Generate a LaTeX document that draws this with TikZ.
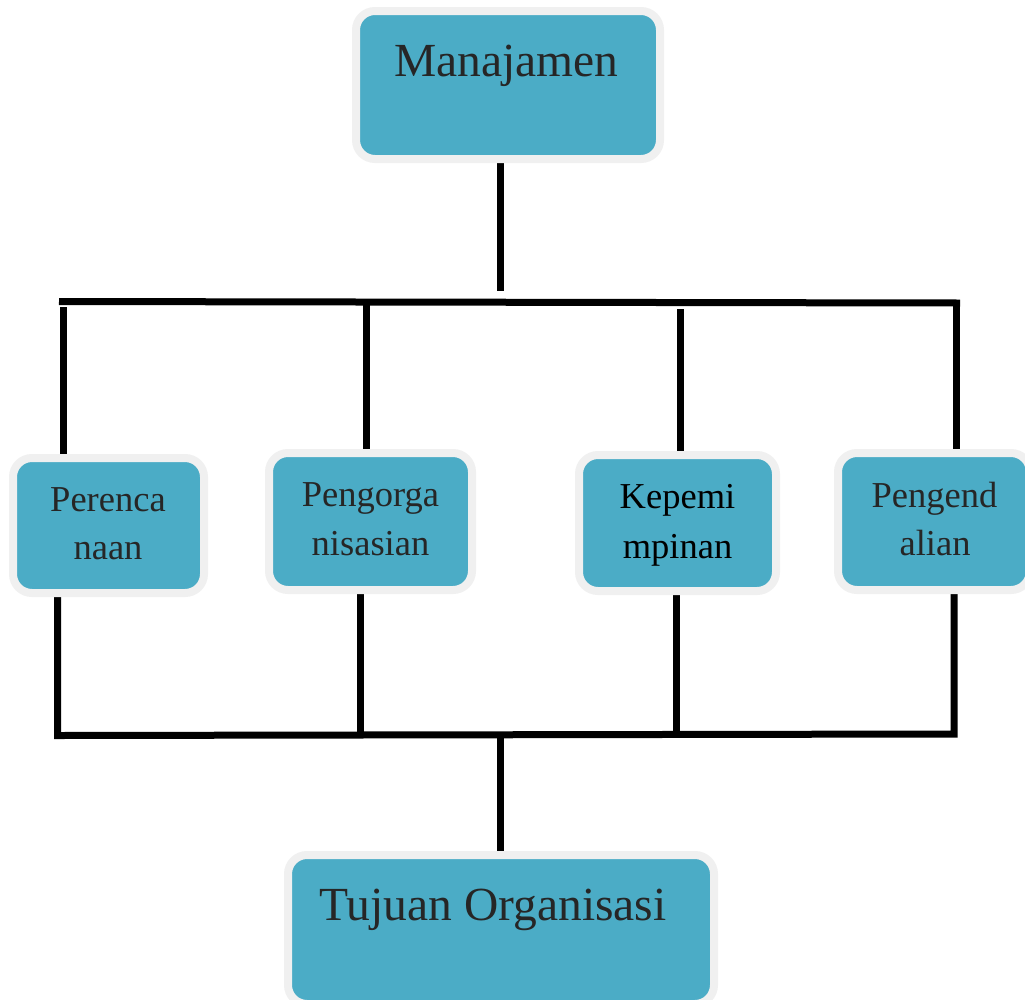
\documentclass[tikz,border=0pt]{standalone}
\usepackage{fontspec}
\setmainfont{Liberation Serif}
\usetikzlibrary{backgrounds}
\definecolor{boxblue}{HTML}{4BACC6}
\definecolor{boxrim}{HTML}{F0F0F0}
\definecolor{txtgray}{HTML}{262626}
\begin{document}
\begin{tikzpicture}[x=1pt,y=-1pt,
  box/.style={draw=boxrim, fill=boxblue, line width=8pt, rounded corners=19pt, inner sep=0pt},
  bigtext/.style={font=\fontsize{47.5}{57}\selectfont, text=txtgray, anchor=base, inner sep=0pt},
  smalltext/.style={font=\fontsize{36.5}{44}\selectfont, text=txtgray, anchor=base, inner sep=0pt},
  wire/.style={line width=7pt, draw=black, line cap=butt, line join=miter}]
\useasboundingbox (0,0) rectangle (1025,999);

% boxes
\node[box, minimum width=304pt, minimum height=148pt] (man) at (508,85) {};
\node[box, minimum width=191pt, minimum height=135pt] (per) at (108.5,525.5) {};
\node[box, minimum width=203pt, minimum height=137pt] (org) at (370.5,521.5) {};
\node[box, minimum width=197pt, minimum height=136pt] (kep) at (677.5,523) {};
\node[box, minimum width=192pt, minimum height=137pt] (pen) at (934,521.5) {};
\node[box, minimum width=426pt, minimum height=149pt] (tuj) at (501,929.5) {};

% texts
\node[bigtext] (manT) at (506.5,76) {Manajamen};
\node[bigtext] (tujT) at (493,920) {Tujuan Organisasi};
\node[smalltext] (perA) at (108,511) {Perenca};
\node[smalltext] (perB) at (108,559) {naan};
\node[smalltext] (orgA) at (370.5,506) {Pengorga};
\node[smalltext] (orgB) at (370.5,555) {nisasian};
\node[smalltext, text=black] (kepA) at (677.5,508) {Kepemi};
\node[smalltext, text=black] (kepB) at (677.5,558) {mpinan};
\node[smalltext] (penA) at (934.5,507) {Pengend};
\node[smalltext] (penB) at (935,555) {alian};

% junction coordinates
\coordinate (busL) at (59,301.5);
\coordinate (busR) at (960,303);
\coordinate (busM) at (500.5,291);
\coordinate (t1) at (63.5,307);
\coordinate (t2) at (366,304);
\coordinate (t3) at (680,309);
\coordinate (t4) at (956.5,303);
\coordinate (bL) at (57.5,735.5);
\coordinate (bR) at (954,734);
\coordinate (b2) at (360,735);
\coordinate (b3) at (676.5,734.5);
\coordinate (bM) at (500.5,735);

\begin{pgfonlayer}{background}
\fill[white] (0,0) rectangle (1025,999);
\draw[wire] (man.south -| busM) -- (busM);
\draw[wire] (busL) -- (busR);
\draw[wire] (t1) -- (t1 |- per.north);
\draw[wire] (t2) -- (t2 |- org.north);
\draw[wire] (t3) -- (t3 |- kep.north);
\draw[wire] (t4) -- (t4 |- pen.north);
\draw[wire] (per.south -| bL) -- (bL) -- (bR) -- (pen.south -| bR);
\draw[wire] (org.south -| b2) -- (b2);
\draw[wire] (kep.south -| b3) -- (b3);
\draw[wire] (bM) -- (bM |- tuj.north);
\end{pgfonlayer}
\end{tikzpicture}
\end{document}
